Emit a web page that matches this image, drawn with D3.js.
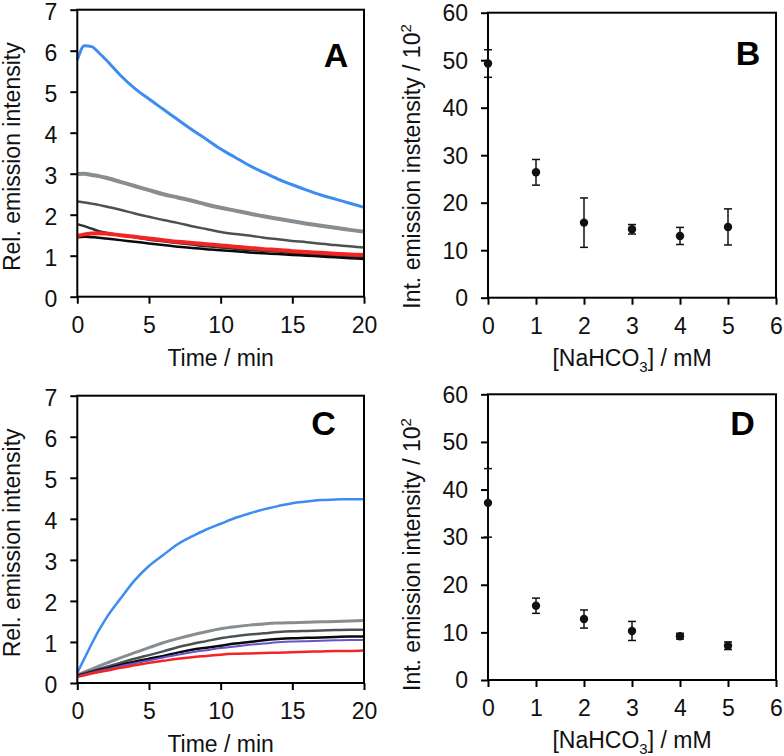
<!DOCTYPE html>
<html><head><meta charset="utf-8">
<script src="https://cdn.jsdelivr.net/npm/d3@7/dist/d3.min.js"></script>
<style>
body{margin:0;background:#fff;}
svg{display:block;font-family:"Liberation Sans",Arial,sans-serif;}
</style></head>
<body><svg id="chart" width="784" height="756"></svg>
<script>
// ---------------- data ----------------
const timeMin = [0,0.5,1,1.5,2,3,4,5,6,7,8,9,10,11,12,13,14,15,16,17,18,19,20];

// Panel A (decay traces)
const aBlue  = [5.77,6.12,6.10,5.95,5.78,5.40,5.08,4.82,4.57,4.32,4.07,3.84,3.60,3.40,3.20,3.03,2.87,2.73,2.60,2.48,2.38,2.28,2.18];
const aGrey  = [2.99,3.00,2.97,2.94,2.90,2.80,2.70,2.60,2.50,2.42,2.34,2.25,2.17,2.10,2.03,1.96,1.90,1.84,1.78,1.73,1.68,1.63,1.59];
const aDark  = [2.32,2.30,2.27,2.24,2.20,2.12,2.03,1.95,1.87,1.80,1.72,1.65,1.58,1.53,1.49,1.44,1.40,1.36,1.33,1.29,1.26,1.23,1.20];
const aDark2 = [1.77,1.72,1.66,1.60,1.56,1.50,1.45,1.39,1.35,1.31,1.27,1.23,1.20,1.17,1.14,1.12,1.10,1.07,1.05,1.03,1.01,0.99,0.97];
const aRed   = [1.48,1.52,1.54,1.55,1.54,1.50,1.46,1.42,1.38,1.34,1.31,1.28,1.25,1.22,1.19,1.16,1.14,1.11,1.09,1.07,1.05,1.03,1.02];
const aBlack = [1.45,1.46,1.45,1.44,1.42,1.38,1.34,1.30,1.26,1.22,1.19,1.16,1.13,1.11,1.08,1.06,1.04,1.02,1.00,0.98,0.96,0.94,0.92];

// Panel C (rise traces)
const cBlue   = [0.25,0.60,0.95,1.28,1.57,2.05,2.50,2.85,3.12,3.38,3.57,3.74,3.88,4.02,4.13,4.23,4.31,4.38,4.42,4.46,4.47,4.48,4.48];
const cGrey   = [0.20,0.27,0.34,0.41,0.48,0.61,0.74,0.86,0.98,1.08,1.17,1.25,1.32,1.37,1.41,1.44,1.46,1.47,1.48,1.49,1.50,1.51,1.52];
const cDark   = [0.18,0.24,0.29,0.34,0.39,0.49,0.59,0.68,0.77,0.87,0.95,1.02,1.09,1.14,1.18,1.21,1.24,1.26,1.27,1.28,1.29,1.30,1.30];
const cBlack  = [0.17,0.22,0.26,0.31,0.35,0.44,0.52,0.59,0.66,0.74,0.81,0.86,0.91,0.96,1.00,1.04,1.07,1.09,1.10,1.11,1.12,1.13,1.13];
const cPurple = [0.16,0.21,0.25,0.29,0.33,0.41,0.48,0.55,0.62,0.69,0.75,0.80,0.85,0.89,0.93,0.96,0.99,1.01,1.02,1.03,1.04,1.05,1.05];
const cRed    = [0.15,0.19,0.23,0.27,0.30,0.37,0.43,0.49,0.54,0.59,0.63,0.66,0.69,0.71,0.72,0.73,0.74,0.75,0.76,0.77,0.78,0.78,0.79];

// Panels B and D (integrated intensity vs NaHCO3)
const conc   = [0,1,2,3,4,5];
const bMean  = [49.3,26.4,15.8,14.4,13.0,14.9];
const bErr   = [2.9,2.7,5.2,1.0,1.8,3.8];
const dMean  = [37.2,15.6,12.8,10.3,9.2,7.2];
const dErr   = [7.2,1.6,1.9,2.0,0.6,0.8];

const timeTicks = [0,5,10,15,20];
const relTicks  = [0,1,2,3,4,5,6,7];
const concTicks = [0,1,2,3,4,5,6];
const intTicks  = [0,10,20,30,40,50,60];

// ---------------- layout ----------------
const svg = d3.select("#chart");
const FS = 23;
const fmt = d3.format("d");

function frame(p, xs, ys, xt, yt, ydy){
  const g = svg.append("g");
  const xa = g.append("g").attr("transform",`translate(0,${p.bottom})`)
    .call(d3.axisBottom(xs).tickValues(xt).tickFormat(fmt).tickSize(7).tickPadding(13).tickSizeOuter(0));
  const ya = g.append("g").attr("transform",`translate(${p.left},0)`)
    .call(d3.axisLeft(ys).tickValues(yt).tickFormat(fmt).tickSize(7).tickPadding(13).tickSizeOuter(0));
  [xa,ya].forEach(a=>{
    a.selectAll("path").remove();
    a.selectAll("line").attr("stroke","#000").attr("stroke-width",2);
    a.selectAll("text").attr("fill","#111").style("font-size",FS+"px");
  });
  ya.selectAll("text").attr("dy",ydy);
  g.append("rect").attr("x",p.left).attr("y",p.top)
    .attr("width",p.right-p.left).attr("height",p.bottom-p.top)
    .attr("fill","none").attr("stroke","#000").attr("stroke-width",2);
  return g;
}

function letter(p){
  svg.append("text").attr("x",p.lx).attr("y",p.ly).attr("text-anchor","middle")
    .style("font-size","34px").style("font-weight","bold").attr("fill","#000").text(p.name);
}

function xTitleTime(p){
  svg.append("text").attr("x",(p.left+p.right)/2).attr("y",p.bottom+69)
    .attr("text-anchor","middle").style("font-size",FS+"px").attr("fill","#111").text("Time / min");
}
function xTitleConc(p){
  const t = svg.append("text").attr("x",(p.left+p.right)/2).attr("y",p.bottom+68)
    .attr("text-anchor","middle").style("font-size",FS+"px").attr("fill","#111");
  t.append("tspan").text("[NaHCO");
  t.append("tspan").attr("dy",6).style("font-size","15px").text("3");
  t.append("tspan").attr("dy",-6).text("] / mM");
}
function yTitleRel(p){
  svg.append("text").attr("transform",`translate(20,${(p.top+p.bottom)/2+3.5}) rotate(-90)`)
    .attr("text-anchor","middle").style("font-size",FS+"px").attr("fill","#111")
    .text("Rel. emission intensity");
}
function yTitleInt(p, label){
  const t = svg.append("text").attr("transform",`translate(420,${p.bottom+11}) rotate(-90)`)
    .attr("text-anchor","start").style("font-size",FS+"px").attr("fill","#111");
  t.append("tspan").text(label + " / 10");
  t.append("tspan").attr("dy",-9).style("font-size","15px").text("2");
}

// ---------- time-trace panels ----------
function tracePanel(p, series){
  const xs = d3.scaleLinear().domain([0,20]).range([p.left,p.right]);
  const ys = d3.scaleLinear().domain([0,7]).range([p.bottom,p.top]);
  const line = d3.line().x((d,i)=>xs(timeMin[i])).y(d=>ys(d)).curve(d3.curveMonotoneX);
  const g = svg.append("g");
  series.forEach(s=>{
    g.append("path").attr("d",line(s.v)).attr("fill","none")
      .attr("stroke",s.c).attr("stroke-width",s.w).attr("stroke-linejoin","round");
  });
  frame(p, xs, ys, timeTicks, relTicks, "0.42em");
  letter(p); xTitleTime(p); yTitleRel(p);
}

// ---------- scatter panels ----------
function scatterPanel(p, mean, err, label){
  const xs = d3.scaleLinear().domain([0,6]).range([p.left,p.right]);
  const ys = d3.scaleLinear().domain([0,60]).range([p.bottom,p.top]);
  frame(p, xs, ys, concTicks, intTicks, "0.34em");
  const g = svg.append("g");
  conc.forEach((c,i)=>{
    const x = xs(c), y1 = ys(mean[i]+err[i]), y2 = ys(mean[i]-err[i]);
    g.append("line").attr("x1",x).attr("x2",x).attr("y1",y1).attr("y2",y2)
      .attr("stroke","#111").attr("stroke-width",1.5);
    [y1,y2].forEach(y=>g.append("line").attr("x1",x-4).attr("x2",x+4).attr("y1",y).attr("y2",y)
      .attr("stroke","#111").attr("stroke-width",1.5));
    g.append("circle").attr("cx",x).attr("cy",ys(mean[i])).attr("r",4.2).attr("fill","#111");
  });
  letter(p); xTitleConc(p); yTitleInt(p, label);
}

const blue="#3d8cf0", grey="#878d90", dark="#4c5254", dark2="#2e3030", red="#f22424", black="#0a0a0a", purple="#6a52c8";

tracePanel({name:"A",left:77.3,right:364,top:9.7,bottom:296.7,lx:336,ly:66.7},[
  {v:aBlue,c:blue,w:3},
  {v:aGrey,c:grey,w:4},
  {v:aDark,c:dark,w:2.5},
  {v:aDark2,c:dark2,w:2.5},
  {v:aBlack,c:black,w:2.5},
  {v:aRed,c:red,w:4}
]);
scatterPanel({name:"B",left:488,right:776,top:12.7,bottom:297.7,lx:748,ly:65}, bMean, bErr, "Int. emission instensity");
tracePanel({name:"C",left:77.3,right:364,top:395.7,bottom:683,lx:323.5,ly:435},[
  {v:cGrey,c:grey,w:3},
  {v:cDark,c:dark,w:2.5},
  {v:cBlack,c:black,w:2.5},
  {v:cPurple,c:purple,w:2},
  {v:cRed,c:red,w:2.5},
  {v:cBlue,c:blue,w:2.5}
]);
scatterPanel({name:"D",left:488,right:776,top:394.3,bottom:680,lx:742.5,ly:435}, dMean, dErr, "Int. emission intensity");
</script></body></html>
